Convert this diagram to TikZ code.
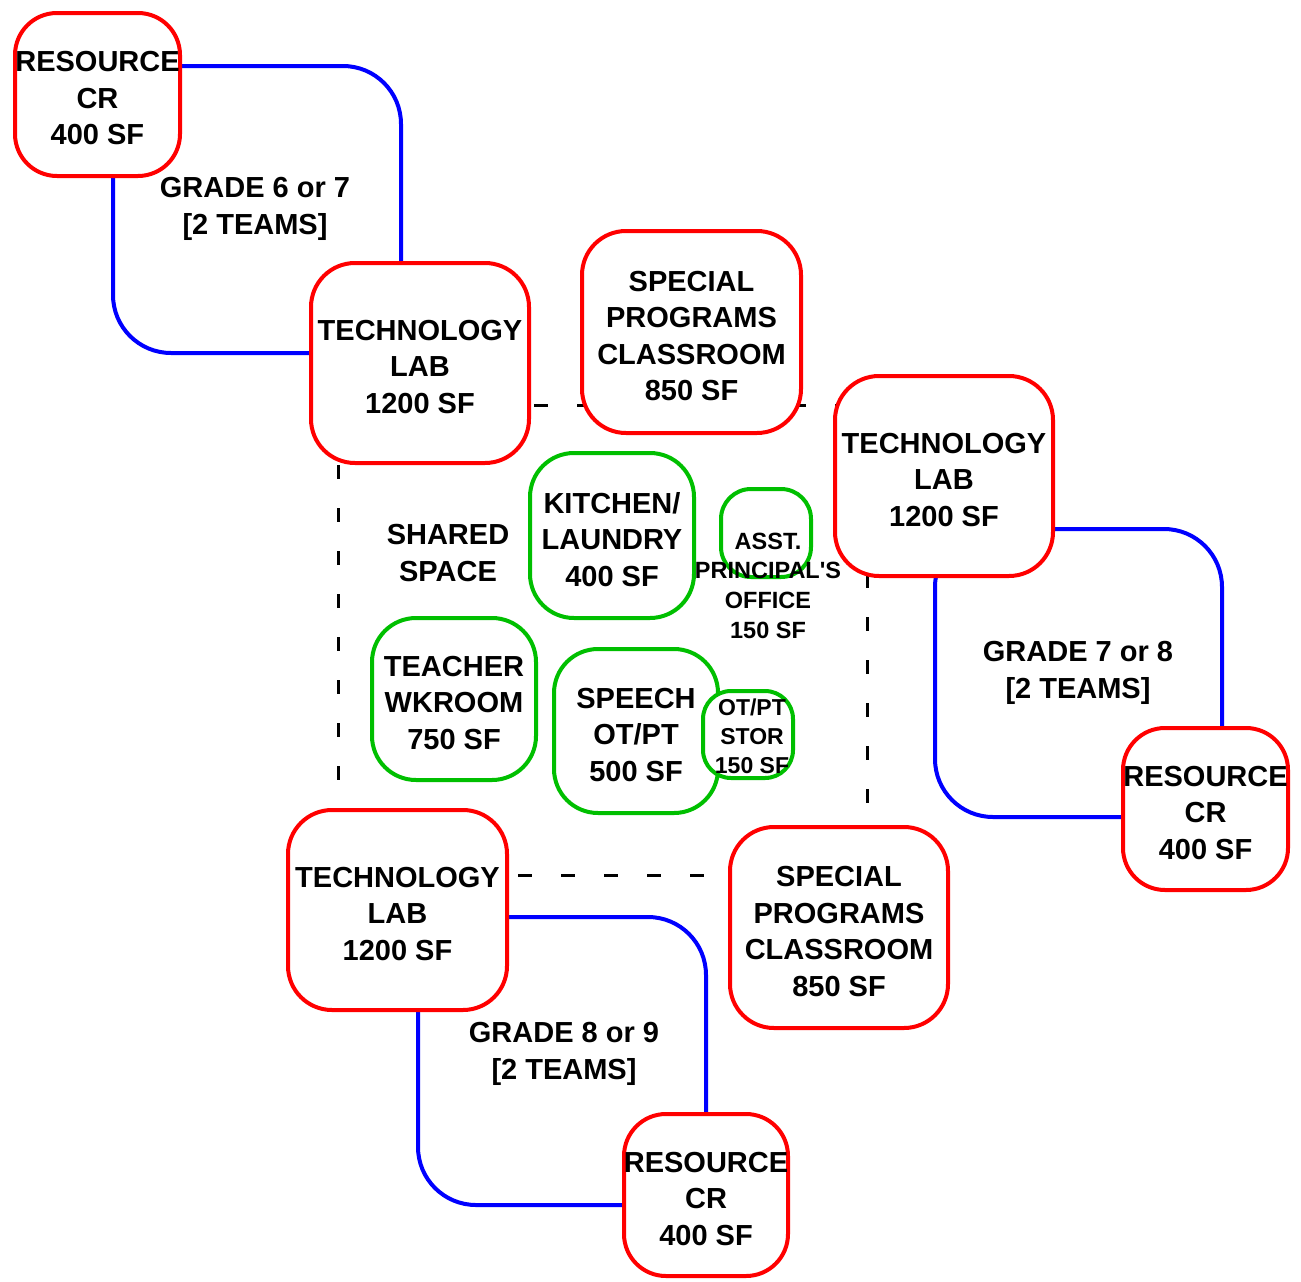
\documentclass[tikz,border=0pt]{standalone}
\usepackage{fontspec}
\setmainfont{Liberation Sans}
\newcommand\bigf{\fontsize{29}{36.5}\selectfont\bfseries}
\newcommand\smallf{\fontsize{23.5}{29.7}\selectfont\bfseries}
\begin{document}
\begin{tikzpicture}[x=1pt,y=-1pt,
  redbox/.style={draw=red, line width=4pt, fill=white, rounded corners=44pt, inner sep=0pt},
  greenbox/.style={draw=green!75!black, line width=4pt, fill=white, rounded corners=44pt, inner sep=0pt},
  smallgreen/.style={greenbox, rounded corners=30pt},
  bigtext/.style={align=center, font=\bigf, inner sep=0pt, yshift=-4pt},
  smalltext/.style={align=center, font=\smallf, inner sep=0pt},
  blueline/.style={draw=blue, line width=4pt, rounded corners=58pt},
  dashline/.style={draw=black, line width=3pt, dash pattern=on 14pt off 29pt}
]
\useasboundingbox[fill=white] (0,0) rectangle (1301,1282);

% shared space dashed outline
\coordinate (dtl) at (338,405);
\coordinate (dtr) at (867,405);
\coordinate (dbl) at (338,875);
\coordinate (dbr) at (867,875);
\draw[dashline, dash phase=19pt] (dtl) -- (dtr);
\draw[dashline, dash phase=26pt] (dtl) -- (dbl);
\draw[dashline, dash phase=3pt] (dtr) -- (dbr);
\draw[dashline, dash phase=35pt] (dbl) -- (dbr);

% grade team outlines
\draw[blueline] (113,66) rectangle (401,353);
\draw[blueline] (935,529) rectangle (1222,817);
\draw[blueline] (418,917) rectangle (706,1205);

% red rooms
\node[redbox, rounded corners=42pt, minimum width=165pt, minimum height=163pt] (res1) at (97.5,94.5) {};
\node[bigtext] (res1t) at (res1) {RESOURCE\\CR\\400 SF};
\node[redbox, minimum width=218pt, minimum height=200pt] (tech1) at (420,363) {};
\node[bigtext] (tech1t) at (tech1) {TECHNOLOGY\\LAB\\1200 SF};
\node[redbox, minimum width=219pt, minimum height=202pt] (spec1) at (691.5,332) {};
\node[bigtext] (spec1t) at (spec1) {SPECIAL\\PROGRAMS\\CLASSROOM\\850 SF};
\node[redbox, minimum width=218pt, minimum height=200pt] (tech2) at (944,476) {};
\node[bigtext] (tech2t) at (tech2) {TECHNOLOGY\\LAB\\1200 SF};
\node[redbox, rounded corners=42pt, minimum width=165pt, minimum height=162pt] (res2) at (1205.5,809) {};
\node[bigtext] (res2t) at (res2) {RESOURCE\\CR\\400 SF};
\node[redbox, minimum width=219pt, minimum height=200pt] (tech3) at (397.5,910) {};
\node[bigtext] (tech3t) at (tech3) {TECHNOLOGY\\LAB\\1200 SF};
\node[redbox, minimum width=218pt, minimum height=201pt] (spec2) at (839,927.5) {};
\node[bigtext] (spec2t) at (spec2) {SPECIAL\\PROGRAMS\\CLASSROOM\\850 SF};
\node[redbox, rounded corners=42pt, minimum width=164pt, minimum height=162pt] (res3) at (706,1195) {};
\node[bigtext] (res3t) at (res3) {RESOURCE\\CR\\400 SF};

% green rooms
\node[greenbox, minimum width=164pt, minimum height=165pt] (kitchen) at (612,535.5) {};
\node[bigtext] (kitchent) at (kitchen) {KITCHEN/\\LAUNDRY\\400 SF};
\node[smallgreen, minimum width=90pt, minimum height=88pt] (asst) at (766,533) {};
\node[smalltext] (asstt) at (768,585.5) {ASST.\\PRINCIPAL\textquotesingle S\\OFFICE\\150 SF};
\node[greenbox, minimum width=164pt, minimum height=162pt] (teacher) at (454,699) {};
\node[bigtext] (teachert) at (teacher) {TEACHER\\WKROOM\\750 SF};
\node[greenbox, minimum width=164pt, minimum height=164pt] (speech) at (636,731) {};
\node[bigtext] (speecht) at (speech) {SPEECH\\OT/PT\\500 SF};
\node[smallgreen, rounded corners=28pt, minimum width=90pt, minimum height=87pt] (stor) at (748,734.5) {};
\node[smalltext, font=\fontsize{23}{29}\selectfont\bfseries] (stort) at (752,736) {OT/PT\\STOR\\150 SF};

% labels
\node[bigtext] (shared) at (448,549) {SHARED\\SPACE};
\node[bigtext] (grade1) at (255,205) {GRADE 6 or 7\\{}[2 TEAMS]};
\node[bigtext] (grade2) at (1078,669) {GRADE 7 or 8\\{}[2 TEAMS]};
\node[bigtext] (grade3) at (564,1050) {GRADE 8 or 9\\{}[2 TEAMS]};
\end{tikzpicture}
\end{document}
